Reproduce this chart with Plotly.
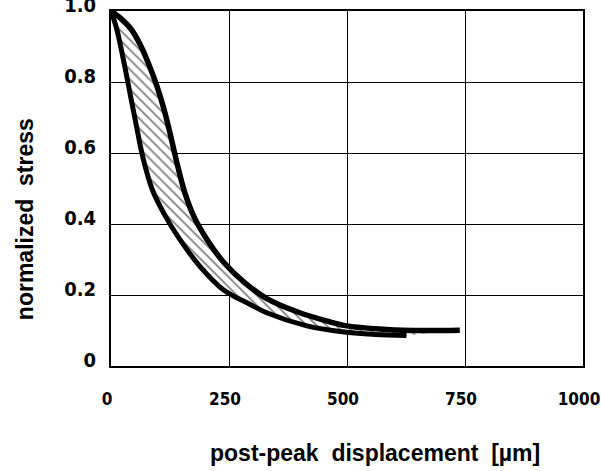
import plotly.graph_objects as go

# post-peak displacement [um] and normalized stress
upper_x = [0, 20, 42, 62, 80, 97, 113, 127, 141, 156, 176, 204, 240, 283, 330, 400, 457, 500, 584, 660, 739]
upper_y = [1.0, 0.98, 0.95, 0.905, 0.85, 0.79, 0.72, 0.645, 0.565, 0.49, 0.42, 0.355, 0.29, 0.235, 0.19, 0.150, 0.127, 0.113, 0.103, 0.100, 0.101]

lower_x = [0, 12, 26, 40, 54, 68, 88, 114, 144, 187, 238, 294, 330, 415, 499, 560, 626]
lower_y = [1.0, 0.95, 0.865, 0.77, 0.675, 0.585, 0.495, 0.425, 0.36, 0.283, 0.215, 0.174, 0.150, 0.113, 0.095, 0.089, 0.086]

x_ticks = [0, 250, 500, 750, 1000]
x_labels = ["0", "250", "500", "750", "1000"]
y_ticks = [0, 0.2, 0.4, 0.6, 0.8, 1.0]
y_labels = ["0", "0.2", "0.4", "0.6", "0.8", "1.0"]

x_title = "post-peak  displacement  [µm]"
y_title = "normalized  stress"

tick_font = "DejaVu Sans Condensed, DejaVu Sans, sans-serif"
title_font = "Liberation Sans, Arial, sans-serif"

fig = go.Figure()
fig.add_trace(go.Scatter(
    x=lower_x, y=lower_y, mode="lines",
    line=dict(color="black", width=5, shape="spline", smoothing=1.0),
    showlegend=False, hoverinfo="skip", cliponaxis=False))
fig.add_trace(go.Scatter(
    x=upper_x, y=upper_y, mode="lines",
    line=dict(color="black", width=5.5, shape="spline", smoothing=1.0),
    fill="tonexty", fillcolor="white",
    fillpattern=dict(shape="\\", fgcolor="black", bgcolor="white", size=7, solidity=0.25),
    showlegend=False, hoverinfo="skip", cliponaxis=False))

fig.update_layout(
    width=601, height=471,
    margin=dict(l=111, r=18, t=11, b=105),
    paper_bgcolor="white", plot_bgcolor="white",
    font=dict(family=title_font, color="black"),
    annotations=[
        dict(text=x_title, xref="paper", yref="paper", x=0.559, y=-0.245,
             xanchor="center", yanchor="middle", showarrow=False,
             font=dict(size=23, weight="bold", family=title_font)),
        dict(text=y_title, xref="paper", yref="paper", x=-0.182, y=0.414,
             xanchor="center", yanchor="middle", showarrow=False, textangle=-90,
             font=dict(size=23, weight="bold", family=title_font)),
    ],
)
fig.update_xaxes(
    range=[0, 1000], tickvals=x_ticks, ticktext=x_labels,
    automargin=False, ticklabeloverflow="allow",
    showgrid=True, gridcolor="black", gridwidth=1.3,
    showline=True, linecolor="black", linewidth=2, mirror=True,
    zeroline=False, ticks="", ticklabelstandoff=17, ticklabelshift=-4,
    tickfont=dict(size=17, weight="bold", family=tick_font),
)
fig.update_yaxes(
    range=[0, 1.0], tickvals=y_ticks, ticktext=y_labels,
    automargin=False, ticklabeloverflow="allow",
    showgrid=True, gridcolor="black", gridwidth=1.3,
    showline=True, linecolor="black", linewidth=2, mirror=True,
    zeroline=False, ticks="", ticklabelstandoff=9, ticklabelshift=-6,
    tickfont=dict(size=20, weight="bold", family=tick_font),
)

# remove the browser's default 8px body margin so the figure fills the window
fig.write_html("out.html", config={"displayModeBar": False},
               post_script="document.body.style.margin='0';")
